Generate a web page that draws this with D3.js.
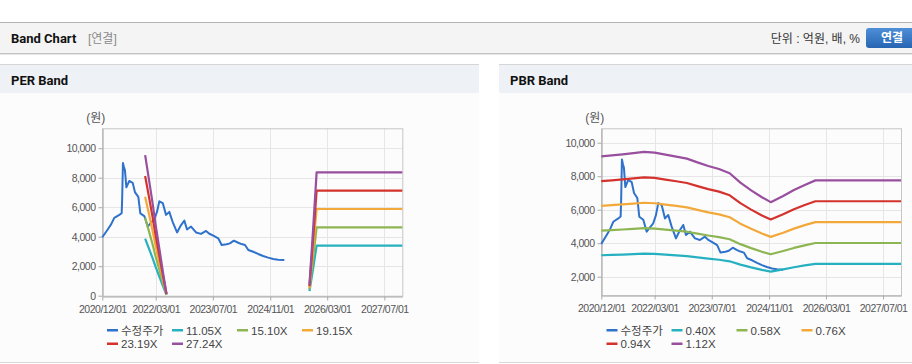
<!DOCTYPE html>
<meta charset="utf-8">
<style>
body{
  margin: 0;
  width: 912px;
  height: 364px;
  overflow: hidden;
  background: #fff;
}
svg text { font-family: "Liberation Sans", Arial, "Noto Sans CJK KR", sans-serif; }
</style>
<script src="https://d3js.org/d3.v7.min.js"></script>
<svg width="912" height="364"></svg>

<script>

// x axis
var xStart = "2020-12-01",
    xEnd = "2027-12-01";
var xTickDates = ["2020-12-01", "2022-03-01", "2023-07-01", "2024-11-01", "2026-03-01", "2027-07-01"];
var xTickLabels = ["2020/12/01", "2022/03/01", "2023/07/01", "2024/11/01", "2026/03/01", "2027/07/01"];

// 수정주가 (adjusted price)
var priceDates = ["2020-12-01","2021-01-16","2021-02-15","2021-03-13","2021-04-25","2021-05-15","2021-05-19",
  "2021-05-26","2021-06-04","2021-06-12","2021-06-24","2021-07-19","2021-08-17","2021-09-06","2021-10-04",
  "2021-10-21","2021-11-24","2021-12-23","2022-01-20","2022-02-17","2022-03-12","2022-04-01","2022-04-30",
  "2022-05-28","2022-06-25","2022-07-24","2022-08-30","2022-10-03","2022-10-31","2022-11-23","2022-12-27",
  "2023-02-08","2023-03-22","2023-05-04","2023-06-01","2023-07-05","2023-08-16","2023-09-14","2023-10-26",
  "2023-11-23","2023-12-27","2024-02-02","2024-03-02","2024-03-31","2024-04-28","2024-06-09","2024-07-21",
  "2024-09-01","2024-10-14","2024-11-26","2025-01-07","2025-03-01"];
var priceValues = [3960,4490,4850,5280,5480,5590,6500,
  9000,8700,8500,7350,7780,7650,7000,6700,
  5580,5400,4690,4950,5190,5680,6400,6280,
  5480,5680,4990,4290,4790,5090,4490,4690,
  4290,4190,4390,4200,4070,3890,3440,3490,
  3550,3730,3590,3500,3440,3100,2980,2830,
  2690,2580,2490,2440,2420];

// PER band: EPS (null = gap)
var epsDates = ["2021-12-01","2022-01-01","2022-02-01","2022-03-01","2022-04-01","2022-05-01","2022-06-01",
  "2024-01-01","2025-10-01","2025-11-01","2025-12-01","2027-12-01"];
var epsValues = [350,292,233,175,117,60,5,
  null,28,165,307,307];
var perMultiples = [11.05, 15.10, 19.15, 23.19, 27.24];
var perLabels = ["11.05X", "15.10X", "19.15X", "23.19X", "27.24X"];

// PBR band: BPS
var bpsDates = ["2020-12-01","2021-03-01","2021-06-01","2021-09-01","2021-12-01","2022-03-01","2022-06-01",
  "2022-09-01","2022-12-01","2023-03-01","2023-06-01","2023-09-01","2023-12-01","2024-03-01","2024-06-01",
  "2024-09-01","2024-11-15","2025-03-01","2025-06-01","2025-09-01","2025-12-01","2027-12-01"];
var bpsValues = [8200,8250,8310,8370,8440,8400,8290,
  8190,8080,7880,7690,7530,7300,6800,6390,
  6020,5760,6090,6410,6680,6920,6920];
var pbrMultiples = [0.40, 0.58, 0.76, 0.94, 1.12];
var pbrLabels = ["0.40X", "0.58X", "0.76X", "0.94X", "1.12X"];

var priceLabel = "수정주가";
var priceColor = "#2f72cc";
var bandColors = ["#27b1c0", "#8db653", "#f3a93a", "#d3322d", "#984f9d"];

var parse = d3.timeParse("%Y-%m-%d");
var svg = d3.select("svg");

// ---- page chrome
svg.append("rect").attr("x", 0).attr("y", 22).attr("width", 912).attr("height", 1).attr("fill", "#b3b3b3");
svg.append("rect").attr("x", 0).attr("y", 23).attr("width", 912).attr("height", 30).attr("fill", "#f4f4f4");
svg.append("rect").attr("x", 0).attr("y", 53).attr("width", 912).attr("height", 1).attr("fill", "#c4c4c4");
svg.append("rect").attr("x", 0).attr("y", 54).attr("width", 912).attr("height", 1).attr("fill", "#e6e6e6");

svg.append("text").attr("x", 11).attr("y", 43).text("Band Chart")
  .style("font-family", "Roboto, sans-serif").style("font-weight", "bold").style("font-size", "13px").attr("fill", "#111");
svg.append("text").attr("x", 88).attr("y", 43).text("[연결]")
  .style("font-size", "12px").attr("fill", "#8a8a8a");
svg.append("text").attr("x", 860).attr("y", 43).attr("text-anchor", "end").text("단위 : 억원, 배, %")
  .style("font-size", "12px").attr("fill", "#333");

var grad = svg.append("defs").append("linearGradient").attr("id", "btn").attr("x1", 0).attr("x2", 0).attr("y1", 0).attr("y2", 1);
grad.append("stop").attr("offset", "0%").attr("stop-color", "#4e8fd8");
grad.append("stop").attr("offset", "100%").attr("stop-color", "#2765b2");
svg.append("rect").attr("x", 866).attr("y", 28).attr("width", 52).attr("height", 20).attr("rx", 3).attr("fill", "url(#btn)");
svg.append("text").attr("x", 892).attr("y", 42).attr("text-anchor", "middle").text("연결")
  .style("font-weight", "bold").style("font-size", "12px").attr("fill", "#fff");

function panel(x0, w, title) {
  svg.append("rect").attr("x", x0).attr("y", 64).attr("width", w).attr("height", 1).attr("fill", "#d6d6d6");
  svg.append("rect").attr("x", x0).attr("y", 65).attr("width", w).attr("height", 28).attr("fill", "#eef1f6");
  svg.append("rect").attr("x", x0).attr("y", 93).attr("width", w).attr("height", 269).attr("fill", "#fcfcfd");
  svg.append("rect").attr("x", x0).attr("y", 362).attr("width", w).attr("height", 1).attr("fill", "#d8d8d8");
  svg.append("text").attr("x", x0 + 11).attr("y", 85).text(title)
    .style("font-family", "Roboto, sans-serif").style("font-weight", "bold").style("font-size", "13px").attr("fill", "#111");
}
panel(0, 479, "PER Band");
panel(499, 413, "PBR Band");

// ---- charts
function drawChart(o) {
  var g = svg.append("g");
  var x = d3.scaleTime().domain([parse(xStart), parse(xEnd)]).range([o.left, o.right]);
  var y = d3.scaleLinear().domain(o.yDomain).range([o.bottom, o.top]);

  // grid
  g.selectAll(".vg").data(xTickDates).join("line")
    .attr("x1", function(d) { return Math.round(x(parse(d))) + 0.5; })
    .attr("x2", function(d) { return Math.round(x(parse(d))) + 0.5; })
    .attr("y1", o.top).attr("y2", o.bottom).attr("stroke", "#e6e6e6");
  g.selectAll(".hg").data(o.yTicks).join("line")
    .attr("x1", o.left).attr("x2", o.right)
    .attr("y1", function(d) { return Math.round(y(d)) + 0.5; })
    .attr("y2", function(d) { return Math.round(y(d)) + 0.5; })
    .attr("stroke", "#e6e6e6");

  g.append("rect").attr("x", o.left + 0.5).attr("y", o.top + 0.5)
    .attr("width", o.right - o.left).attr("height", o.bottom - o.top)
    .attr("fill", "none").attr("stroke", "#c6c6c6");

  // axes
  var xa = g.append("g").attr("transform", "translate(0," + (Math.round(o.bottom) + 0.5) + ")")
    .call(d3.axisBottom(x).tickValues(xTickDates.map(parse))
      .tickFormat(function(d, i) { return xTickLabels[i]; }).tickSize(4).tickSizeOuter(0));
  var ya = g.append("g").attr("transform", "translate(" + (Math.round(o.left) + 0.5) + ",0)")
    .call(d3.axisLeft(y).tickValues(o.yTicks).tickFormat(d3.format(",")).tickSize(4).tickSizeOuter(0));
  [xa, ya].forEach(function(a) {
    a.select(".domain").attr("stroke", "#aaa");
    a.selectAll(".tick line").attr("stroke", "#aaa");
    a.selectAll("text").attr("fill", "#555").style("font-size", "10.5px").style("letter-spacing", "-0.5px")
      .style("font-family", "\"Liberation Sans\", Arial, sans-serif");
  });
  xa.selectAll("text").attr("dy", "0.95em");
  ya.selectAll("text").attr("x", -7);

  g.append("text").attr("x", o.left - 16).attr("y", 122).text("(원)")
    .style("font-size", "12px").attr("fill", "#555");

  var line = d3.line()
    .defined(function(d) { return d[1] != null; })
    .x(function(d) { return x(d[0]); })
    .y(function(d) { return y(d[1]); });

  var price = priceDates.map(function(d, i) { return [parse(d), priceValues[i]]; });
  g.append("path").datum(price).attr("d", line).attr("fill", "none")
    .attr("stroke", priceColor).attr("stroke-width", 2).attr("stroke-linejoin", "round");

  o.multiples.forEach(function(m, k) {
    var pts = o.baseDates.map(function(d, i) {
      return [parse(d), o.baseValues[i] == null ? null : o.baseValues[i] * m];
    });
    g.append("path").datum(pts).attr("d", line).attr("fill", "none")
      .attr("stroke", bandColors[k]).attr("stroke-width", 2.2).attr("stroke-linejoin", "round");
  });

  // legend
  var items = [{ label: priceLabel, color: priceColor }].concat(o.labels.map(function(l, k) {
    return { label: l, color: bandColors[k] };
  }));
  var lg = g.selectAll(".lg").data(items).join("g")
    .attr("transform", function(d, i) {
      return "translate(" + (o.legendX + (i % 4) * 65) + "," + (330.5 + Math.floor(i / 4) * 13.5) + ")";
    });
  lg.append("rect").attr("x", 0).attr("y", -1.5).attr("width", 11).attr("height", 2.5).attr("fill", function(d) { return d.color; });
  lg.append("text").attr("x", 14).attr("y", 4).text(function(d) { return d.label; })
    .style("font-size", "11.5px").attr("fill", "#444");
}

drawChart({
  left: 102.3, right: 402.3, top: 128.3, bottom: 295.7,
  yDomain: [0, 11350], yTicks: [0, 2000, 4000, 6000, 8000, 10000],
  baseDates: epsDates, baseValues: epsValues,
  multiples: perMultiples, labels: perLabels, legendX: 107
});

drawChart({
  left: 601.3, right: 901, top: 128.3, bottom: 295.3,
  yDomain: [890, 10860], yTicks: [2000, 4000, 6000, 8000, 10000],
  baseDates: bpsDates, baseValues: bpsValues,
  multiples: pbrMultiples, labels: pbrLabels, legendX: 606.5
});
</script>
